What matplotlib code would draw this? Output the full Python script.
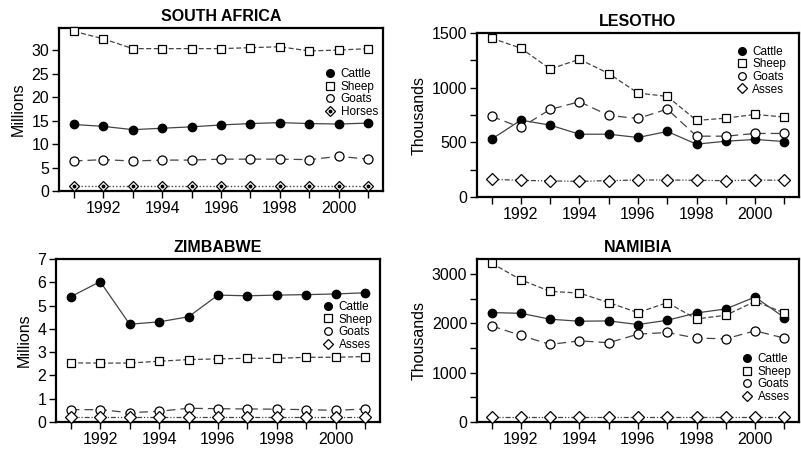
import matplotlib.pyplot as plt
from matplotlib.lines import Line2D

plt.rcParams['font.family'] = ['Liberation Sans', 'DejaVu Sans']

years = list(range(1991, 2002))
year_labels = ['', '1992', '', '1994', '', '1996', '', '1998', '', '2000', '']

# South Africa (millions)
sa_cattle = [14.2, 13.8, 13.1, 13.4, 13.7, 14.1, 14.4, 14.6, 14.4, 14.3, 14.5]
sa_sheep = [34.1, 32.5, 30.4, 30.4, 30.4, 30.4, 30.6, 30.8, 29.9, 30.1, 30.4]
sa_goats = [6.4, 6.7, 6.4, 6.6, 6.6, 6.8, 6.8, 6.8, 6.7, 7.4, 6.8]
sa_horses = [1.1, 1.1, 1.1, 1.1, 1.1, 1.1, 1.1, 1.1, 1.1, 1.1, 1.1]

# Lesotho (thousands)
ls_cattle = [530, 704, 658, 575, 575, 545, 600, 484, 511, 527, 508]
ls_sheep = [1454, 1362, 1172, 1261, 1130, 952, 921, 701, 722, 756, 732]
ls_goats = [738, 637, 802, 872, 747, 719, 805, 557, 557, 582, 582]
ls_asses = [162, 153, 147, 144, 150, 156, 156, 153, 150, 156, 153]

# Zimbabwe (millions)
zw_cattle = [5.38, 6.03, 4.20, 4.30, 4.52, 5.45, 5.42, 5.45, 5.47, 5.50, 5.55]
zw_sheep = [2.54, 2.53, 2.53, 2.61, 2.68, 2.71, 2.74, 2.73, 2.78, 2.78, 2.81]
zw_goats = [0.53, 0.53, 0.40, 0.46, 0.59, 0.57, 0.56, 0.55, 0.53, 0.50, 0.56]
zw_asses = [0.22, 0.22, 0.22, 0.22, 0.22, 0.22, 0.22, 0.22, 0.22, 0.22, 0.22]

# Namibia (thousands)
na_cattle = [2215, 2201, 2081, 2040, 2047, 1973, 2060, 2208, 2289, 2530, 2114]
na_sheep = [3215, 2879, 2644, 2611, 2416, 2215, 2416, 2087, 2161, 2443, 2208]
na_goats = [1946, 1752, 1570, 1644, 1604, 1779, 1812, 1698, 1685, 1846, 1698]
na_asses = [100, 100, 100, 100, 100, 100, 100, 100, 100, 100, 100]

lc = '#444444'
ms = 6

def draw_panel(rect, title, ylabel, series, fourth, ylim, yticks, ylabels, leg_pos):
    ax = fig.add_axes(rect)
    cattle, sheep, goats, other = series
    ax.plot(years, cattle, '-', color=lc, lw=0.9, marker='o', ms=ms,
            mfc='black', mec='black', clip_on=False, zorder=3)
    ax.plot(years, sheep, color=lc, lw=0.9, ls=(0, (4, 2)), marker='s', ms=ms,
            mfc='white', mec='black', mew=0.9, clip_on=False, zorder=3)
    ax.plot(years, goats, color=lc, lw=0.9, ls=(0, (7, 4)), marker='o', ms=ms + 0.5,
            mfc='white', mec='black', mew=0.9, clip_on=False, zorder=3)
    if fourth == 'Horses':
        ax.plot(years, other, color=lc, lw=1.0, ls=(0, (1, 1.5)), marker='D', ms=ms - 0.5,
                mfc='white', mec='black', mew=0.9, clip_on=False, zorder=3)
        ax.plot(years, other, ls='none', marker='o', ms=1.8, mfc='black', mec='black',
                clip_on=False, zorder=4)
        h4 = (Line2D([], [], ls='none', marker='D', ms=ms - 0.5, mfc='white', mec='black', mew=0.9),
              Line2D([], [], ls='none', marker='o', ms=1.8, mfc='black', mec='black'))
    else:
        ax.plot(years, other, color=lc, lw=0.9, ls=(0, (4, 1.5, 1, 1.5, 1, 1.5)), marker='D',
                ms=ms, mfc='white', mec='black', mew=0.9, clip_on=False, zorder=3)
        h4 = Line2D([], [], ls='none', marker='D', ms=ms - 0.5, mfc='white', mec='black', mew=0.9)
    handles = [Line2D([], [], ls='none', marker='o', ms=ms - 0.5, mfc='black', mec='black'),
               Line2D([], [], ls='none', marker='s', ms=ms - 0.5, mfc='white', mec='black', mew=0.9),
               Line2D([], [], ls='none', marker='o', ms=ms - 0.5, mfc='white', mec='black', mew=0.9),
               h4]
    ax.legend(handles, ['Cattle', 'Sheep', 'Goats', fourth], loc='center left',
              bbox_to_anchor=leg_pos, frameon=False, fontsize=8.5, borderpad=0,
              handlelength=1, handletextpad=0.4, labelspacing=0.05, borderaxespad=0)
    ax.set_xlim(1990.5, 2001.5)
    ax.set_ylim(*ylim)
    ax.set_xticks(years)
    ax.set_xticklabels(year_labels)
    ax.set_yticks(yticks)
    ax.set_yticklabels(ylabels)
    ax.tick_params(direction='out', length=5, width=1, labelsize=11.5, pad=2)
    for s in ax.spines.values():
        s.set_linewidth(1.6)
    ax.set_title(title, fontsize=11.5, fontweight='bold', pad=5)
    ax.set_ylabel(ylabel, fontsize=11.5)
    return ax

fig = plt.figure(figsize=(8.01, 4.54), dpi=100)

draw_panel([0.0737, 0.5793, 0.4045, 0.359], 'SOUTH AFRICA', 'Millions',
           (sa_cattle, sa_sheep, sa_goats, sa_horses), 'Horses', (0, 34.8),
           [0, 5, 10, 15, 20, 25, 30], ['0', '5', '10', '15', '20', '25', '30'], (0.818, 0.601))
draw_panel([0.5955, 0.566, 0.402, 0.361], 'LESOTHO', 'Thousands',
           (ls_cattle, ls_sheep, ls_goats, ls_asses), 'Asses', (0, 1500),
           [0, 250, 500, 750, 1000, 1250, 1500], ['0', '', '500', '', '1000', '', '1500'], (0.804, 0.771))
draw_panel([0.0699, 0.0705, 0.4045, 0.359], 'ZIMBABWE', 'Millions',
           (zw_cattle, zw_sheep, zw_goats, zw_asses), 'Asses', (0, 7),
           [0, 1, 2, 3, 4, 5, 6, 7], ['0', '1', '2', '3', '4', '5', '6', '7'], (0.821, 0.59))
draw_panel([0.5955, 0.0705, 0.402, 0.359], 'NAMIBIA', 'Thousands',
           (na_cattle, na_sheep, na_goats, na_asses), 'Asses', (0, 3300),
           [0, 500, 1000, 1500, 2000, 2500, 3000], ['0', '', '1000', '', '2000', '', '3000'], (0.820, 0.27))

fig.savefig('out.png', dpi=100)
